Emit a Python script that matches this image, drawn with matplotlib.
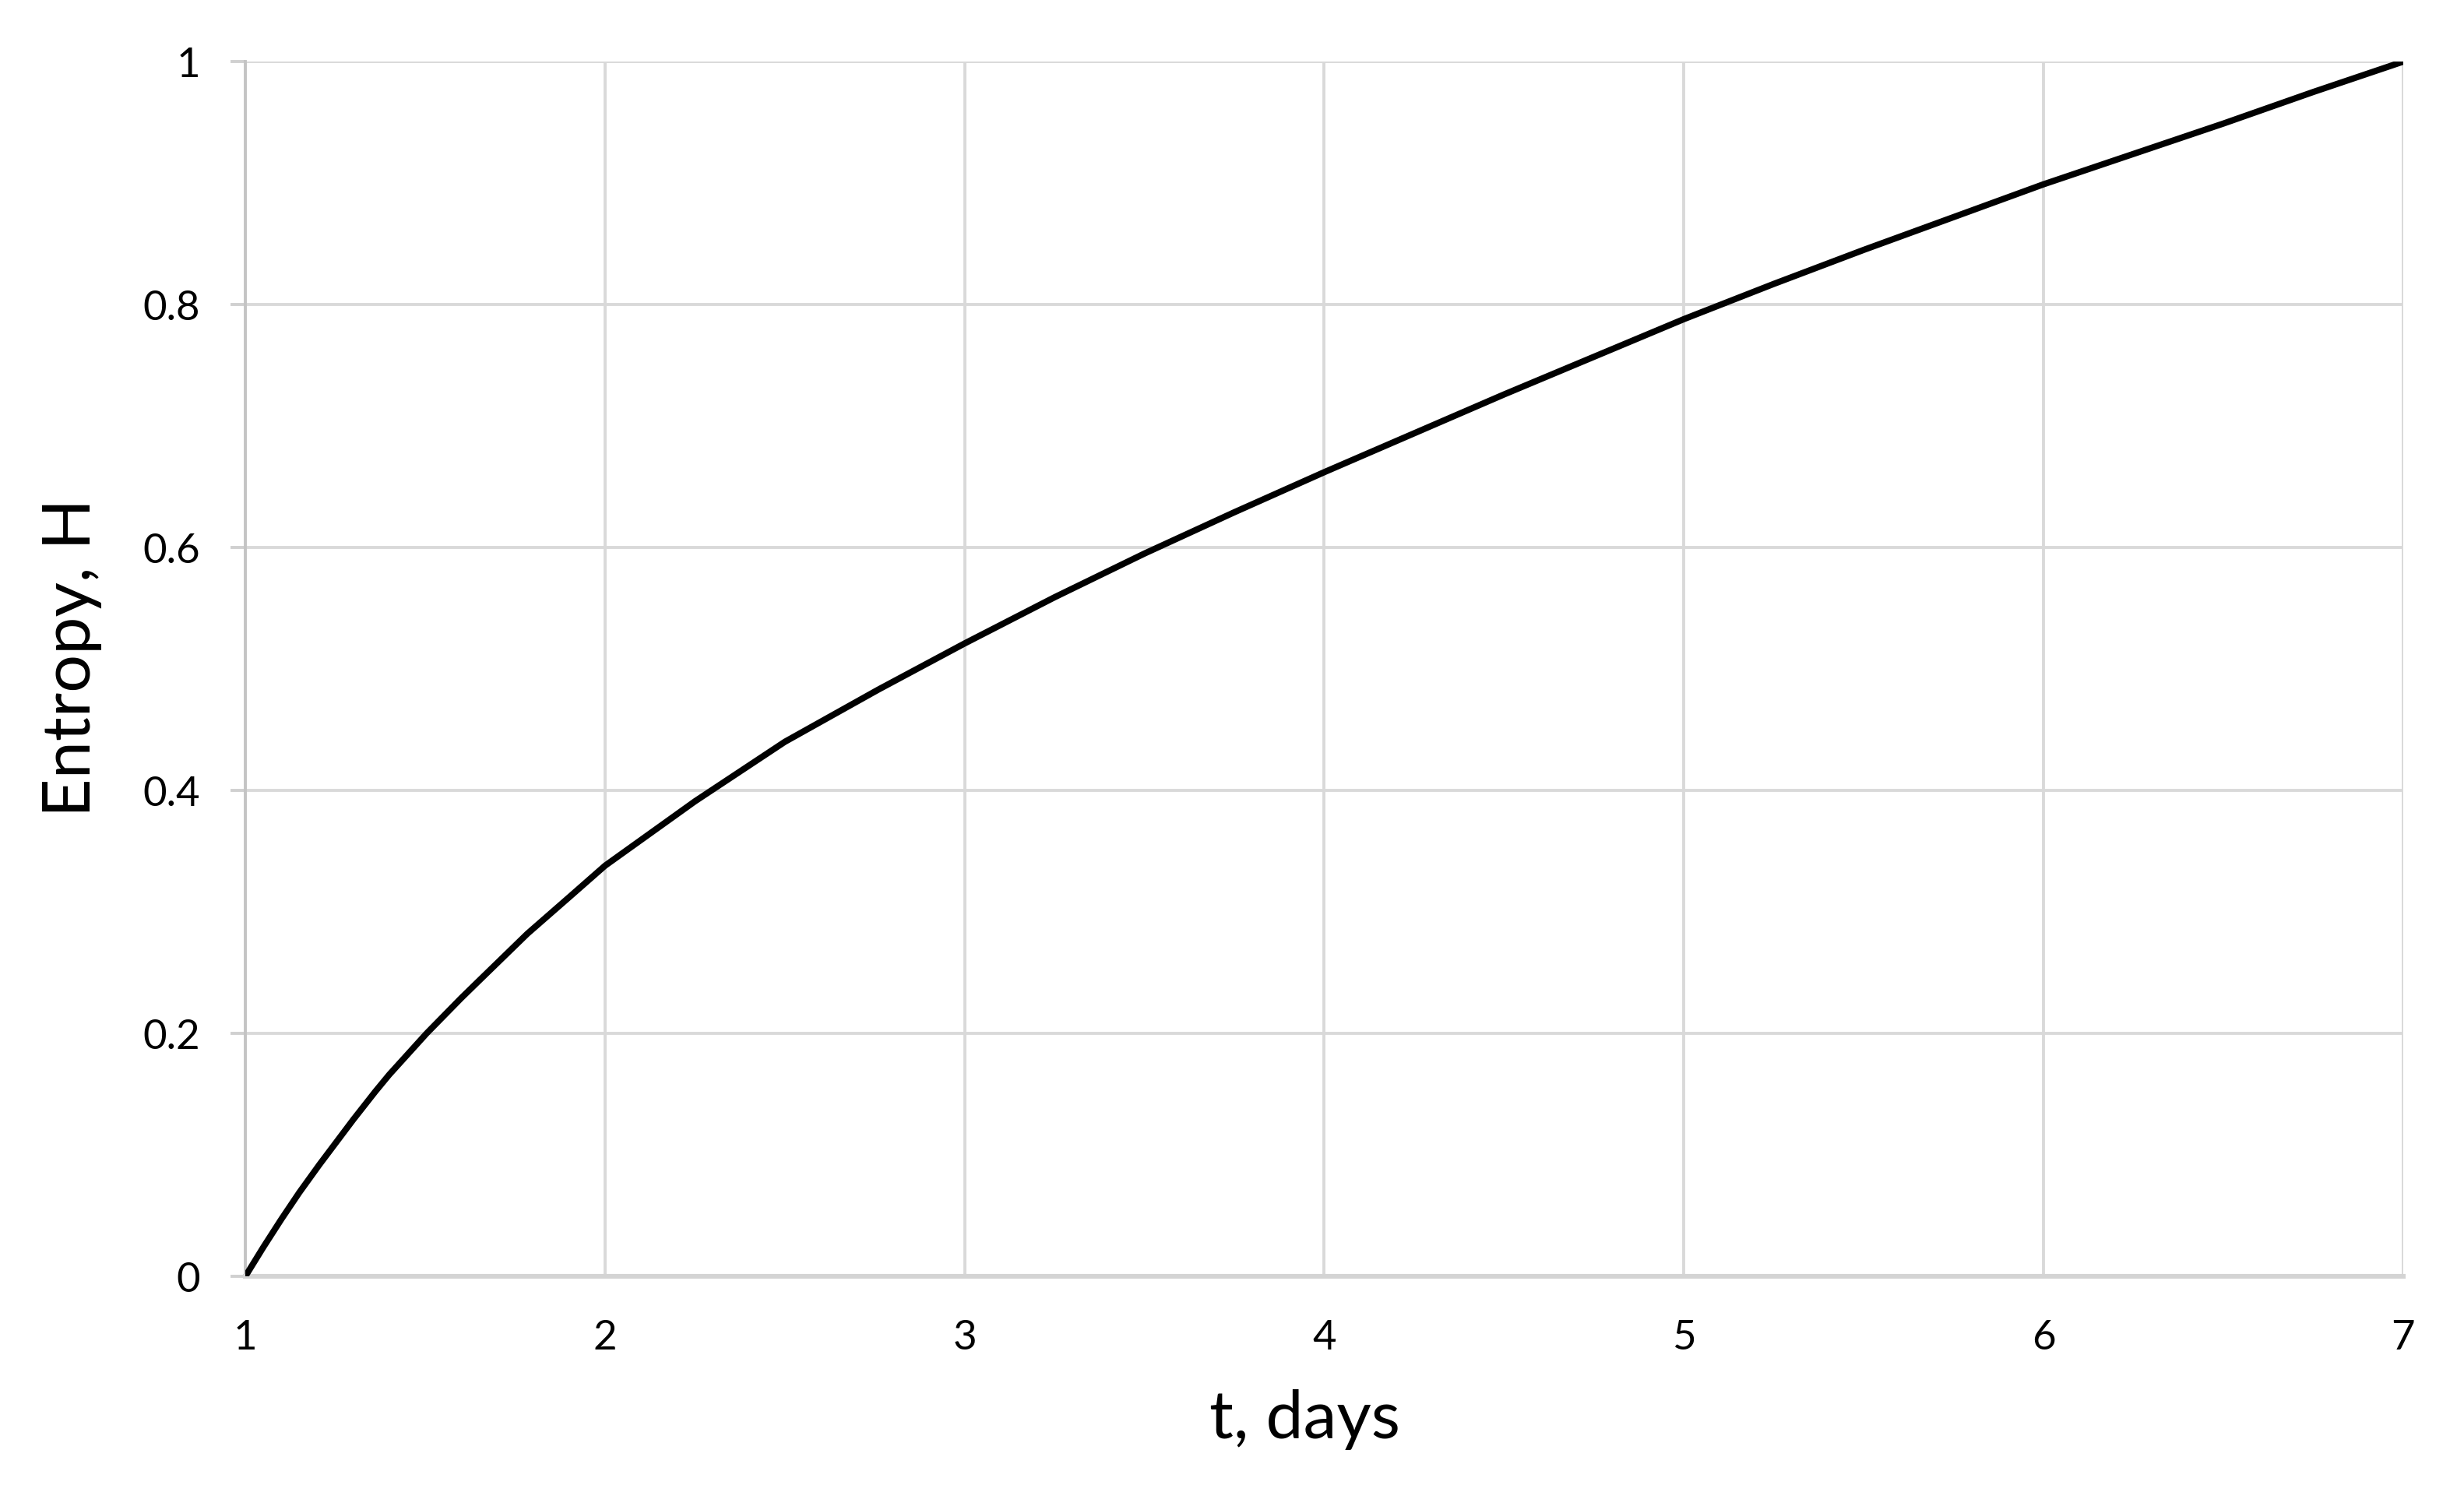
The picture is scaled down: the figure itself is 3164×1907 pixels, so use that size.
import matplotlib
matplotlib.use('Agg')
from matplotlib import pyplot as plt

# values
t_days = [1.0, 1.05, 1.1, 1.15, 1.206, 1.3, 1.361, 1.4, 1.504, 1.6, 1.645, 1.784, 1.9,
          2.0, 2.25, 2.5, 2.76, 3.0, 3.25, 3.5, 3.75, 4.0, 4.25, 4.5, 4.75,
          5.0, 5.25, 5.5, 5.75, 6.0, 6.25, 6.5, 6.75, 7.0]
entropy = [0.0, 0.024, 0.047, 0.069, 0.092, 0.129, 0.152, 0.166, 0.2, 0.229, 0.242, 0.282, 0.312,
           0.338, 0.391, 0.44, 0.483, 0.521, 0.559, 0.595, 0.629, 0.662, 0.694, 0.726, 0.757,
           0.788, 0.817, 0.845, 0.872, 0.899, 0.924, 0.949, 0.975, 1.0]
x_ticks = [1, 2, 3, 4, 5, 6, 7]
y_ticks = [0, 0.2, 0.4, 0.6, 0.8, 1]
y_tick_labels = ['0', '0.2', '0.4', '0.6', '0.8', '1']

plt.rcParams['font.family'] = ['Lato', 'DejaVu Sans']

fig = plt.figure(figsize=(15.82, 9.54), dpi=200)
ax = fig.add_axes([0.0996, 0.1405, 0.8757, 0.8175])

ax.plot(t_days, entropy, color='black', lw=2.9, solid_capstyle='round',
        solid_joinstyle='round', zorder=3)

ax.set_xlim(1, 7)
ax.set_ylim(0, 1)
ax.set_xticks(x_ticks)
ax.set_yticks(y_ticks)
ax.set_yticklabels(y_tick_labels)
ax.grid(True, color='#d9d9d9', lw=1.4)
ax.set_axisbelow(True)

for side in ['top', 'right']:
    ax.spines[side].set_visible(False)
ax.spines['left'].set_color('#c4c4c4')
ax.spines['left'].set_linewidth(1.4)
ax.spines['bottom'].set_color('#d4d4d4')
ax.spines['bottom'].set_linewidth(2.2)

ax.tick_params(axis='y', length=7, width=1.4, color='#d0d0d0', pad=14, labelsize=19)
ax.tick_params(axis='x', length=0, pad=20, labelsize=19)

ax.set_xlabel('t, days', fontsize=31)
ax.set_ylabel('Entropy, H', fontsize=31)
ax.xaxis.set_label_coords(0.491, -0.133)
ax.xaxis.label.set_va('baseline')
ax.yaxis.set_label_coords(-0.0807, 0.51)
ax.yaxis.label.set_va('center')

fig.savefig('out.png', dpi=200, facecolor='white')
